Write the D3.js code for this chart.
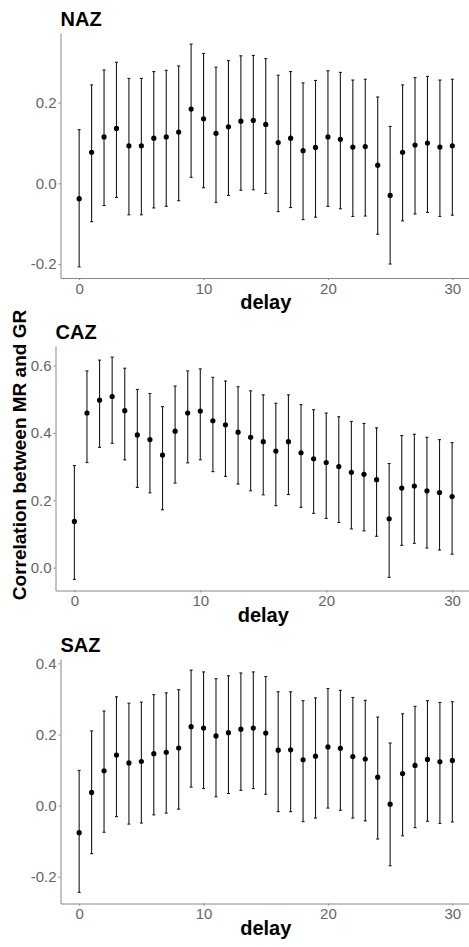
<!DOCTYPE html>
<html>
<head>
<meta charset="utf-8">
<script src="https://cdn.jsdelivr.net/npm/d3@7"></script>
<style>
  body { margin: 0; background: #fff; }
  svg { display: block; font-family: "Liberation Sans", Arial, sans-serif; }
  .axis path, .axis line { stroke: #888; }
  .axis text { fill: #666; font-size: 15px; }
</style>
</head>
<body>
<div id="chart"></div>
<script>
var width = 469
var height = 947

// delay (x values)
var delay = [0, 1, 2, 3, 4, 5, 6, 7, 8, 9, 10, 11, 12, 13, 14, 15, 16, 17, 18, 19, 20, 21, 22, 23, 24, 25, 26, 27, 28, 29, 30]
var xTicks = [0, 10, 20, 30]

// NAZ
var nazEst = [-0.038, 0.077, 0.115, 0.136, 0.093, 0.093, 0.112, 0.115, 0.127, 0.184, 0.160, 0.124, 0.140, 0.154, 0.156, 0.146, 0.101, 0.112, 0.081, 0.089, 0.115, 0.109, 0.090, 0.091, 0.045, -0.030, 0.077, 0.095, 0.100, 0.090, 0.093]
var nazLo = [-0.207, -0.095, -0.055, -0.035, -0.078, -0.078, -0.061, -0.057, -0.043, 0.015, -0.011, -0.047, -0.030, -0.017, -0.016, -0.025, -0.070, -0.060, -0.090, -0.084, -0.057, -0.063, -0.082, -0.081, -0.126, -0.200, -0.093, -0.076, -0.072, -0.082, -0.079]
var nazHi = [0.133, 0.244, 0.281, 0.300, 0.260, 0.260, 0.277, 0.280, 0.291, 0.345, 0.322, 0.288, 0.304, 0.316, 0.317, 0.309, 0.268, 0.277, 0.249, 0.255, 0.279, 0.275, 0.256, 0.258, 0.214, 0.141, 0.244, 0.262, 0.265, 0.256, 0.258]
var nazTicks = [-0.2, 0.0, 0.2]

// CAZ
var cazEst = [0.137, 0.459, 0.497, 0.508, 0.466, 0.394, 0.380, 0.334, 0.405, 0.459, 0.465, 0.436, 0.424, 0.402, 0.387, 0.374, 0.346, 0.374, 0.341, 0.323, 0.312, 0.300, 0.283, 0.277, 0.261, 0.145, 0.236, 0.242, 0.228, 0.223, 0.211]
var cazLo = [-0.035, 0.312, 0.357, 0.369, 0.320, 0.238, 0.222, 0.172, 0.251, 0.311, 0.320, 0.285, 0.271, 0.248, 0.228, 0.216, 0.184, 0.217, 0.179, 0.161, 0.146, 0.134, 0.115, 0.109, 0.093, -0.029, 0.066, 0.072, 0.058, 0.052, 0.040]
var cazHi = [0.303, 0.584, 0.616, 0.625, 0.592, 0.529, 0.517, 0.478, 0.539, 0.584, 0.590, 0.565, 0.554, 0.537, 0.525, 0.513, 0.488, 0.513, 0.484, 0.469, 0.459, 0.448, 0.434, 0.428, 0.415, 0.309, 0.392, 0.396, 0.387, 0.380, 0.371]
var cazTicks = [0.0, 0.2, 0.4, 0.6]

// SAZ
var sazEst = [-0.076, 0.037, 0.098, 0.142, 0.120, 0.124, 0.146, 0.150, 0.162, 0.222, 0.218, 0.196, 0.205, 0.215, 0.218, 0.204, 0.156, 0.157, 0.129, 0.139, 0.165, 0.161, 0.138, 0.131, 0.080, 0.004, 0.090, 0.113, 0.130, 0.123, 0.127]
var sazLo = [-0.244, -0.135, -0.075, -0.031, -0.052, -0.049, -0.026, -0.021, -0.010, 0.052, 0.048, 0.025, 0.034, 0.043, 0.048, 0.032, -0.017, -0.017, -0.045, -0.035, -0.007, -0.013, -0.035, -0.043, -0.094, -0.169, -0.085, -0.062, -0.044, -0.050, -0.046]
var sazHi = [0.099, 0.210, 0.266, 0.306, 0.288, 0.291, 0.312, 0.317, 0.326, 0.381, 0.376, 0.357, 0.365, 0.373, 0.376, 0.363, 0.320, 0.320, 0.295, 0.303, 0.329, 0.324, 0.304, 0.296, 0.249, 0.176, 0.258, 0.279, 0.295, 0.290, 0.292]
var sazTicks = [-0.2, 0.0, 0.2, 0.4]

// panel boxes (pixels)
var panels = [
  { name: 'NAZ', est: nazEst, lo: nazLo, hi: nazHi, ticks: nazTicks, left: 60.5, top: 33, bottom: 278 },
  { name: 'CAZ', est: cazEst, lo: cazLo, hi: cazHi, ticks: cazTicks, left: 55.5, top: 346, bottom: 590.5 },
  { name: 'SAZ', est: sazEst, lo: sazLo, hi: sazHi, ticks: sazTicks, left: 60.5, top: 659, bottom: 903.5 }
]
var panelRight = 471

var svg = d3.select('#chart')
  .append('svg')
  .attr('width', width)
  .attr('height', height)

function expand(lo, hi) {
  var pad = (hi - lo) * 0.05
  return [lo - pad, hi + pad]
}

panels.forEach(function (p) {
  var x = d3.scaleLinear()
    .domain(expand(d3.min(delay), d3.max(delay)))
    .range([p.left, panelRight])

  var y = d3.scaleLinear()
    .domain(expand(d3.min(p.lo), d3.max(p.hi)))
    .range([p.bottom, p.top])

  var g = svg.append('g')

  // axes
  g.append('g')
    .attr('class', 'axis')
    .attr('transform', 'translate(0,' + p.bottom + ')')
    .call(d3.axisBottom(x).tickValues(xTicks).tickSize(2).tickSizeOuter(0).tickPadding(3))

  g.append('g')
    .attr('class', 'axis')
    .attr('transform', 'translate(' + p.left + ',0)')
    .call(d3.axisLeft(y).tickValues(p.ticks).tickSize(2).tickSizeOuter(0).tickPadding(2)
      .tickFormat(d => d.toFixed(1)))

  // error bars
  var rows = delay.map((d, i) => ({ d: d, est: p.est[i], lo: p.lo[i], hi: p.hi[i] }))
  var bars = g.selectAll('.bar')
    .data(rows)
    .enter()
    .append('g')
    .attr('class', 'bar')

  bars.append('line')
    .attr('x1', r => x(r.d))
    .attr('x2', r => x(r.d))
    .attr('y1', r => y(r.lo))
    .attr('y2', r => y(r.hi))
    .attr('stroke', '#1a1a1a')
    .attr('stroke-width', 1.1)

  ;['lo', 'hi'].forEach(function (k) {
    bars.append('line')
      .attr('x1', r => x(r.d - 0.12))
      .attr('x2', r => x(r.d + 0.12))
      .attr('y1', r => y(r[k]))
      .attr('y2', r => y(r[k]))
      .attr('stroke', '#1a1a1a')
      .attr('stroke-width', 1.1)
  })

  bars.append('circle')
    .attr('cx', r => x(r.d))
    .attr('cy', r => y(r.est))
    .attr('r', 2.6)
    .attr('fill', '#000')

  // title
  g.append('text')
    .attr('x', p.left)
    .attr('y', p.top - 7)
    .text(p.name)
    .attr('font-size', '20px')
    .attr('font-weight', 'bold')
    .attr('fill', '#000')

  // x label
  g.append('text')
    .attr('x', (p.left + panelRight) / 2)
    .attr('y', p.bottom + 31)
    .text('delay')
    .attr('text-anchor', 'middle')
    .attr('font-size', '20px')
    .attr('font-weight', 'bold')
    .attr('fill', '#000')
})

// shared y label
svg.append('text')
  .attr('transform', 'translate(26,455) rotate(-90)')
  .text('Correlation between MR and GR')
  .attr('text-anchor', 'middle')
  .attr('font-size', '19px')
  .attr('font-weight', 'bold')
  .attr('fill', '#000')
</script>
</body>
</html>
